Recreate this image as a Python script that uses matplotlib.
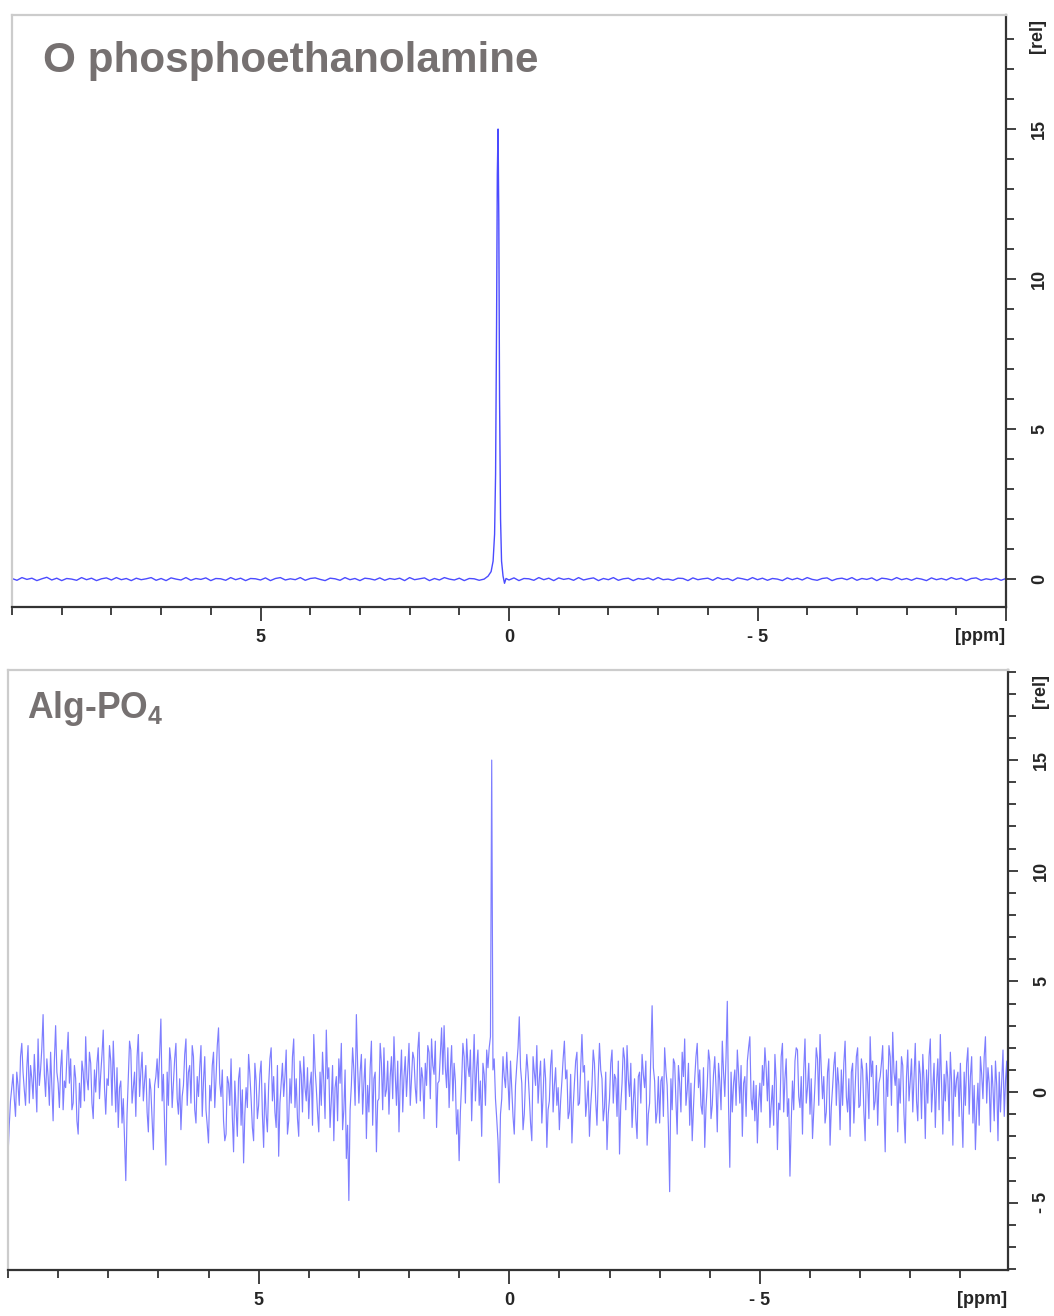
"""31P NMR spectra: O-phosphoethanolamine vs Alg-PO4."""

import matplotlib
matplotlib.use("Agg")
import matplotlib.pyplot as plt
import matplotlib.transforms as mtransforms
import numpy as np
from matplotlib.ticker import MultipleLocator

plt.rcParams["font.family"] = ["Liberation Sans", "DejaVu Sans"]
plt.rcParams["mathtext.fontset"] = "custom"
plt.rcParams["mathtext.rm"] = "Liberation Sans:bold"
plt.rcParams["mathtext.default"] = "rm"

TITLE_TOP = "O phosphoethanolamine"
TITLE_BOTTOM = r"Alg-PO$_4$"

# top spectrum: baseline every 0.1 ppm from 10 to -10
TOP_BASE_REL = [
    0.02, -0.04, 0.05, -0.01, 0.03, -0.05, 0.01, 0.06, -0.03, 0.03, -0.05, 0.02, 0.00, -0.04, 0.05, -0.02, 0.03, -0.05, 0.01, 0.04,
    -0.03, 0.05, -0.02, 0.02, -0.05, 0.03, -0.02, 0.01, 0.05, -0.04, 0.02, -0.05, 0.04, 0.00, -0.03, 0.05, -0.04, 0.02, -0.01, 0.04,
    -0.05, 0.02, 0.01, -0.04, 0.05, -0.02, 0.03, -0.05, 0.02, 0.01, -0.03, 0.04, -0.05, 0.02, 0.05, -0.03, 0.01, -0.02, 0.05, -0.04,
    0.02, 0.04, -0.01, -0.05, 0.03, 0.01, -0.04, 0.05, -0.02, 0.02, -0.05, 0.03, 0.01, -0.03, 0.04, -0.04, 0.02, -0.01, 0.03, -0.05,
    0.05, -0.02, 0.01, 0.04, -0.05, 0.02, -0.03, 0.05, 0.00, -0.03, 0.03, -0.05, 0.02, 0.01, -0.04, 0.05, -0.02, 0.03, -0.01, 0.02,
    -0.03, 0.04, -0.05, 0.02, 0.01, -0.04, 0.05, -0.02, 0.03, -0.05, 0.04, -0.01, 0.02, -0.04, 0.05, -0.03, 0.01, 0.04, -0.05, 0.02,
    -0.02, 0.05, -0.04, 0.01, 0.03, -0.05, 0.02, -0.01, 0.04, -0.03, 0.05, -0.02, 0.00, -0.04, 0.03, 0.02, -0.05, 0.04, -0.02, 0.01,
    0.03, -0.04, 0.05, -0.01, 0.02, -0.05, 0.04, 0.01, -0.03, 0.05, -0.02, 0.03, -0.04, 0.02, 0.00, -0.05, 0.04, -0.02, 0.03, -0.03,
    0.05, -0.01, -0.04, 0.02, 0.04, -0.05, 0.01, 0.03, -0.02, 0.05, -0.04, 0.02, -0.01, 0.04, -0.05, 0.03, 0.01, -0.03, 0.05, -0.02,
    0.02, -0.04, 0.03, 0.00, -0.05, 0.04, -0.02, 0.02, -0.03, 0.05, -0.01, 0.03, -0.05, 0.02, 0.04, -0.04, 0.01, -0.02, 0.03, -0.04,
    0.02,
]
TOP_PEAK_PPM = [0.50, 0.42, 0.36, 0.32, 0.29, 0.27, 0.25, 0.235, 0.22,
                0.205, 0.19, 0.17, 0.15, 0.12, 0.09, 0.06]
TOP_PEAK_REL = [0.00, 0.10, 0.25, 0.60, 1.5, 3.5, 8.5, 13.5, 15.0,
                12.0, 6.0, 2.0, 0.6, 0.10, -0.14, 0.02]

# bottom spectrum: values every 0.05 ppm from 10 to -10 ...
BOTTOM_REL = [
    -2.9, -0.4, 0.8, -1.1, 0.3, 1.6, 0.9, -0.6, 2.1, 1.2, -0.3, 0.5, 2.4, 1.0, 3.5, -0.2, 0.7, 1.8, -1.3, 3.0,
    0.4, 1.1, -0.8, 0.2, 2.7, 1.5, -0.5, 0.6, -1.9, -0.7, 0.9, 2.5, 0.1, 1.3, -1.2, 0.0, 2.0, 0.8, 2.8, -1.0,
    0.3, 1.4, 2.3, -0.9, -1.6, 0.5, -0.3, -4.0, 0.6, 1.9, 0.2, -1.1, 2.6, 0.9, -0.4, 1.2, -1.8, 0.1, -2.6, 0.7,
    0.2, 3.3, 0.8, -3.3, -0.6, 1.4, 0.4, 2.2, -1.0, -1.7, 0.3, 2.4, 0.9, -0.5, 1.6, -1.4, -0.2, 2.1, 0.5, -0.8,
    -2.3, -0.4, 1.8, 0.6, 2.9, -0.2, -1.3, -1.9, 0.4, 1.5, -2.7, -0.8, 0.6, -1.5, -3.2, 0.2, 1.7, -0.3, -2.2, 0.5,
    -0.6, 1.4, -2.5, -1.0, 0.3, 2.0, 0.7, -1.6, -2.9, 0.4, -0.2, 1.9, -1.3, -0.5, 2.4, 0.6, -2.0, 0.8, 1.6, -0.4,
    -1.2, 0.9, 2.6, 0.2, -1.8, -0.6, 0.5, 2.8, 1.1, -0.4, -2.2, 0.7, 1.5, 2.2, -0.8, -3.0, -4.9, 0.3, 1.0, 3.5,
    -0.5, 1.7, 0.4, -2.1, -0.9, 2.3, 0.6, -2.7, -0.3, 1.3, 2.0, 0.1, -1.0, 1.6, 2.5, -0.6, -1.8, 1.9, 0.7, -0.2,
    2.2, 0.6, 1.5, -0.5, 2.7, 1.1, -1.2, 0.3, 1.8, 2.4, 0.8, -1.6, 0.5, 2.9, 3.0, 0.2, -0.7, 2.1, 1.3, -1.9,
    -3.1, 0.4, 1.6, 2.4, 0.7, -1.3, 2.6, 1.1, -0.6, -2.0, 0.8, 1.9, 2.0, 15.0, 1.5, -1.2, -4.1, -0.3, 0.7, 1.8,
    -0.8, 0.2, -1.9, 1.2, 3.4, 0.4, -1.0, 1.7, -0.2, -2.2, 0.9, 2.1, 0.6, -1.4, 1.5, -2.5, -0.4, 1.9, 0.3, -0.6,
    -1.7, 0.5, 2.3, 1.0, -0.9, -2.3, 0.4, 1.8, -0.5, 2.6, 1.2, -0.4, -2.0, 0.3, 1.3, -1.5, 2.2, 0.6, -0.7, -2.6,
    -0.3, 1.9, 0.8, -1.1, -2.8, 0.4, 1.5, 2.1, -0.2, -1.6, 0.6, -2.1, 0.9, 1.7, 0.2, -2.4, -0.5, 3.9, 0.5, -0.9,
    -1.4, 0.7, 2.0, 0.3, -4.5, -0.8, 1.3, -1.9, 0.4, 1.8, 2.4, 0.1, -1.5, -2.2, 0.6, 2.2, 1.0, -1.0, -2.5, 0.3,
    1.4, -0.6, 1.6, -1.8, 0.5, 2.3, -0.2, 4.1, -3.4, -0.9, 1.0, 1.9, -0.5, -2.0, 0.7, 1.4, 2.5, -0.8, -1.3, -2.3,
    0.4, 1.2, 2.0, -0.4, -1.6, 0.3, 1.7, -2.6, -0.8, 2.2, 0.6, -1.1, -3.8, 0.5, 1.4, 1.9, -0.7, -1.9, 2.4, 0.2,
    -1.0, -2.1, 0.4, 1.5, 2.6, -0.3, -1.4, 0.9, -2.4, 0.2, 1.8, 1.1, -1.7, -0.6, 2.3, -0.9, -2.0, 1.3, 0.1, 2.0,
    -0.6, 1.0, -2.2, 0.4, 2.5, 1.4, -0.4, -1.5, 0.7, 2.1, -2.7, -0.2, 1.6, 2.7, 0.3, -1.8, -0.5, 1.2, -2.3, 1.9,
    0.5, -0.9, 2.2, -1.3, 0.8, 1.7, -2.1, -0.5, 2.4, 0.2, -1.6, 1.5, 2.6, -1.9, -0.4, 0.6, 1.8, -2.4, -0.2, 0.9,
    1.3, -2.5, -0.6, 2.0, 0.7, -1.4, -2.6, 0.4, 1.6, -0.3, 2.5, 1.1, -1.8, 0.2, 1.4, -2.2, -0.9, 1.9, 0.5, -2.4,
    -1.7,
]
# ... and the samples halfway between them (9.975, 9.925, ... -9.975)
BOTTOM_REL_MID = [
    -1.5, 0.2, -0.3, 0.9, -0.6, 2.2, 0.1, 1.1, -0.5, 0.6, 1.7, -0.9, 0.3, 2.0, 0.8, 1.5, -0.6, 0.2, 1.4, 0.9,
    -0.7, 1.9, 0.5, 1.6, 0.4, -0.8, 1.2, -1.3, 0.4, 1.4, -0.4, 0.6, 1.8, -0.5, 1.0, 1.3, -0.3, 1.7, 0.2, 0.6,
    2.1, -0.6, 0.7, 1.1, 0.2, -1.4, -2.2, -1.0, 2.3, -0.5, 0.9, 1.6, -0.2, 1.8, 0.5, -0.9, 0.6, -1.3, 0.3, 1.5,
    1.8, -0.4, -1.6, 0.9, 2.0, -0.7, 1.5, -0.3, 0.6, -0.2, 1.7, -0.6, 1.2, 2.1, -0.8, 0.7, 1.1, -1.1, 1.6, -1.5,
    0.3, 1.2, -0.7, 2.1, 0.4, 1.0, -2.2, 0.7, -0.6, -1.1, 0.5, -2.0, 1.1, 0.1, -1.0, -0.7, 0.8, -1.6, 1.3, -1.2,
    0.8, -1.0, 0.4, -1.8, 1.5, -0.4, -0.9, 1.2, -0.5, 1.3, 0.7, -1.9, 0.6, 1.6, -0.7, -1.2, 1.4, -0.9, 0.2, 1.1,
    0.3, -1.5, 1.1, -0.9, 0.9, 1.8, -1.2, 0.6, -1.6, 1.2, 0.2, -1.3, 0.4, -1.7, 1.0, -1.5, -0.8, 2.0, -0.6, 1.2,
    0.9, -1.0, 1.5, 0.3, 1.1, -1.5, 0.9, -0.4, 2.2, -0.8, -0.2, 1.4, 0.7, -0.3, 0.8, 1.4, 0.5, -0.9, 1.6, 1.0,
    -0.6, 1.8, 0.2, 1.9, -0.4, 0.6, 1.3, 2.1, -0.3, 1.2, 2.3, 0.4, 1.7, 0.8, 1.1, 2.0, 1.0, -0.4, 0.5, -0.8,
    -0.9, 2.2, -0.5, 1.2, 1.9, 0.8, -0.4, 1.9, 0.5, 1.3, -0.6, 1.1, 2.5, 1.0, -0.3, -2.2, -1.0, 1.6, 0.2, 0.5,
    1.4, -1.1, 0.3, 2.0, 1.1, -1.7, 0.6, 0.9, -1.4, 1.6, 0.3, -0.5, 1.4, -0.2, 0.6, -0.8, 1.2, -0.9, 1.1, 0.2,
    -0.4, 1.5, 0.6, -1.2, 0.8, -0.7, 1.4, -0.6, 1.1, 0.9, -1.1, 0.5, -0.6, 1.9, -0.4, 0.6, 1.0, -1.3, 0.9, -1.0,
    1.3, -0.5, 0.6, 1.4, -0.6, 2.0, -0.8, 0.6, 1.3, -0.4, -1.2, 0.7, -0.5, 0.8, 1.4, -1.0, 1.8, 1.1, -1.4, 0.7,
    0.5, -1.1, 1.0, -1.6, 0.6, 1.5, -0.4, 1.2, -0.9, 0.7, -0.6, 1.3, 0.4, -0.7, 1.6, 0.2, -0.6, 1.1, -0.7, 1.9,
    -1.2, 0.8, 0.2, 1.3, -0.8, 0.9, 1.6, -0.6, 0.9, 0.4, -0.6, 0.8, 1.2, 0.4, -1.1, 2.0, -0.3, 0.5, 0.3, -0.5,
    -0.9, 0.3, 1.1, 1.4, -0.6, -1.5, 0.5, -0.5, 1.6, -0.9, 1.5, -0.3, -1.4, -0.8, 2.0, -0.2, 0.7, 1.0, -0.5, 1.3,
    0.6, -0.8, 2.0, -0.6, 1.0, 0.7, -0.9, 1.5, -0.7, 1.2, -0.6, 0.3, 1.0, 1.3, -0.2, 0.6, 0.9, -1.4, 1.6, -0.7,
    1.5, -0.9, 1.3, -1.2, 0.7, -0.8, 1.2, 0.4, 1.3, -0.5, 1.0, 2.1, -0.6, 0.9, 1.4, 0.6, 1.6, -1.0, 0.7, -0.4,
    1.5, 0.6, -0.4, 1.4, -1.2, 0.5, 1.0, 1.6, -0.9, 1.3, 0.4, -0.8, 0.3, 0.8, 1.4, -1.3, 0.4, 1.0, 0.6, -1.1,
    -0.7, 0.9, 1.3, -1.0, 1.6, 0.3, -0.8, -1.5, 0.8, 1.6, -0.5, 0.4, 1.2, -1.3, 0.3, 0.9, 0.5, -1.1, 1.4, -0.6,
]

X_TICKS = [5, 0, -5]
X_TICK_LABELS = ["5", "0", "- 5"]
TOP_Y_TICKS = [0, 5, 10, 15]
BOTTOM_Y_TICKS = [-5, 0, 5, 10, 15]

DARK = "#333333"
LIGHT = "#cccccc"
TITLE_COLOR = "#767171"
TICK_FONT = dict(family="Liberation Sans", weight="bold", size=13, color="#262626")


def style_axes(ax, yticks, top_tick=False):
    ax.yaxis.tick_right()
    for side in ("left", "top"):
        ax.spines[side].set_color(LIGHT)
        ax.spines[side].set_linewidth(1.6)
    for side in ("right", "bottom"):
        ax.spines[side].set_color(DARK)
        ax.spines[side].set_linewidth(1.6)

    xt = X_TICKS + ([-10] if top_tick else [])
    xl = X_TICK_LABELS + ([""] if top_tick else [])
    ax.set_xticks(xt, xl)
    ax.xaxis.set_minor_locator(MultipleLocator(1))
    ax.set_yticks(yticks, [str(v) if v >= 0 else "- " + str(-v) for v in yticks])
    ax.yaxis.set_minor_locator(MultipleLocator(1))

    ax.tick_params(axis="x", which="major", length=10, width=1.3, color=DARK, pad=6)
    ax.tick_params(axis="x", which="minor", length=6, width=1.3, color=DARK)
    ax.tick_params(axis="y", which="major", length=7, width=1.3, color=DARK, pad=11)
    ax.tick_params(axis="y", which="minor", length=6, width=1.3, color=DARK)
    for lab in ax.get_xticklabels():
        lab.set(**TICK_FONT)
    for lab in ax.get_yticklabels():
        lab.set(**TICK_FONT)
        lab.set_rotation(90)
        lab.set_verticalalignment("center")

    blend = mtransforms.blended_transform_factory(ax.transAxes, ax.transData)
    ax.text(1.032, 18.1, "[rel]", transform=blend, rotation=90,
            ha="center", va="center", **TICK_FONT)
    ax.text(0.999, -0.05, "[ppm]", transform=ax.transAxes,
            ha="right", va="center", **TICK_FONT)


def main():
    fig = plt.figure(figsize=(10.54, 13.16), dpi=100)

    # top panel
    ax1 = fig.add_axes([12 / 1054, 1 - 607 / 1316, 994 / 1054, 592 / 1316])
    base_ppm = np.linspace(10, -10, len(TOP_BASE_REL))
    base_rel = np.array(TOP_BASE_REL)
    keep = (base_ppm > 0.55) | (base_ppm < 0.05)
    ppm = np.concatenate([base_ppm[keep], TOP_PEAK_PPM])
    rel = np.concatenate([base_rel[keep], TOP_PEAK_REL])
    order = np.argsort(-ppm)
    ax1.plot(ppm[order], rel[order], color="#1e1eff", lw=1.0, alpha=0.8)
    ax1.set_xlim(10, -10)
    ax1.set_ylim(-0.93, 18.8)
    style_axes(ax1, TOP_Y_TICKS, top_tick=True)
    ax1.text(0.031, 0.9037, TITLE_TOP, transform=ax1.transAxes, ha="left",
             va="baseline", fontsize=30.4, fontweight="bold", color=TITLE_COLOR)

    # bottom panel: interleave grid and half-step samples
    rel2 = np.empty(len(BOTTOM_REL) + len(BOTTOM_REL_MID))
    rel2[0::2] = BOTTOM_REL
    rel2[1::2] = BOTTOM_REL_MID
    ppm2 = np.linspace(10, -10, len(rel2))
    ax2 = fig.add_axes([8 / 1054, 1 - 1270 / 1316, 1000 / 1054, 600 / 1316])
    ax2.plot(ppm2, rel2, color="#4c4cff", lw=0.85, alpha=0.72)
    ax2.set_xlim(10, -9.95)
    ax2.set_ylim(-8.04, 19.07)
    style_axes(ax2, BOTTOM_Y_TICKS)
    ax2.text(0.019, 0.92, TITLE_BOTTOM, transform=ax2.transAxes, ha="left",
             va="baseline", fontsize=25.6, fontweight="bold", color=TITLE_COLOR)

    fig.savefig("out.png", dpi=100)
    plt.close(fig)


if __name__ == "__main__":
    main()
